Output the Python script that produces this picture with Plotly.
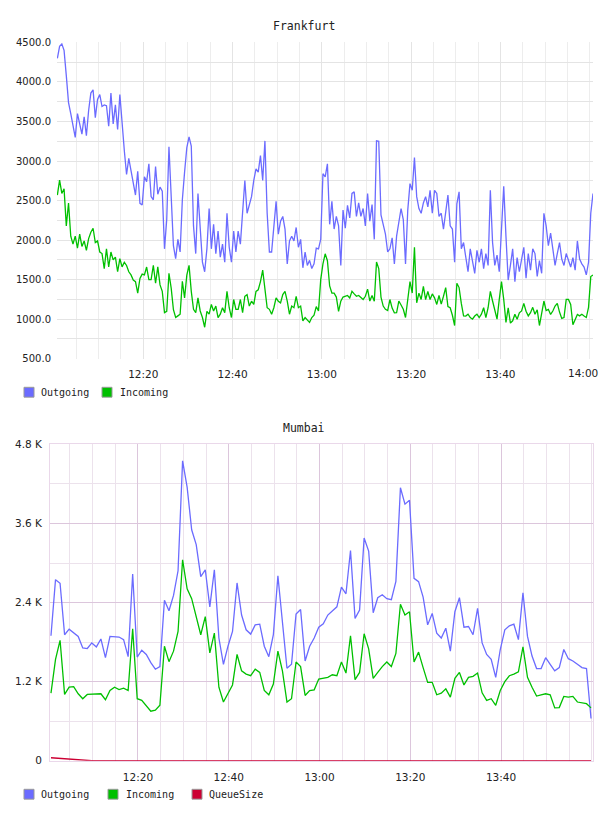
import plotly.graph_objects as go
import pandas as pd

W, H = 608, 816

# ---------------- data ----------------
series_names = ["Outgoing", "Incoming", "QueueSize"]
series_colors = ["#6b6bff", "#00c000", "#cc0033"]

fra_title = "Frankfurt"
fra_start = "2024-01-01 12:00:45"
fra_freq = "30s"
fra_outgoing = [
    4300, 4450, 4480, 4400, 4080, 3740, 3600, 3460, 3300, 3600,
    3480, 3340, 3560, 3320, 3640, 3860, 3900, 3550, 3780, 3840,
    3690, 3710, 3700, 3440, 3860, 3470, 3710, 3400, 3840, 3460,
    3130, 2830, 3035, 2880, 2715, 2570, 2870, 2465, 2445, 2800,
    2740, 2965, 2550, 2510, 2930, 2580, 2670, 2620, 1890, 2260,
    3180, 2500, 1930, 1765, 2010, 1850, 2510, 2860, 3170, 3305,
    3190, 2180, 1830, 2590, 2100, 1720, 1600, 1890, 2400, 1890,
    2200, 1830, 2115, 1785, 1950, 1720, 2340, 1910, 1720, 2115,
    1850, 2115, 1950, 2300, 2755, 2340, 2460, 2550, 2755, 2900,
    2860, 3070, 2755, 3255, 2340, 1850, 1850, 2180, 2490, 2075,
    2240, 2300, 2140, 1700, 1990, 2050, 1990, 2160, 1910, 2010,
    1650, 1850, 1680, 1745, 1640, 1700, 1900, 1890, 2010, 2840,
    2800, 2965, 2200, 2490, 2140, 2300, 2180, 1680, 2380, 2150,
    2440, 2280, 2590, 2610, 2300, 2470, 2300, 2400, 2180, 2590,
    2240, 2450, 2010, 3255, 3250, 2320, 2180, 2075, 1850, 1890,
    2030, 1700, 2050, 2220, 2400, 2260, 1700, 2380, 2715, 2630,
    3045, 2550, 2400, 2340, 2470, 2550, 2420, 2630, 2340, 2630,
    2590, 2300, 2340, 2140, 2380, 2570, 2180, 2140, 1720, 2460,
    2610, 1890, 1970, 1760, 1600, 1890, 1720, 1580, 1870, 1720,
    1890, 1640, 1830, 1680, 2630, 1970, 1680, 1810, 1600, 2100,
    2680, 2050, 1495, 1680, 1890, 1475, 1780, 1600, 1760, 1910,
    1520, 1830, 1620, 1890, 1830, 1540, 1740, 1580, 2340, 2180,
    1930, 2090, 1890, 1680, 1830, 1970, 1760, 1680, 1830, 1740,
    1660, 1780, 1620, 1990, 1760, 1700, 1660, 1560, 1720, 2340,
    2590,
]
fra_incoming = [
    2570, 2760, 2590, 2650, 2180, 2470, 2050, 1950, 2050, 1900,
    2075, 1920, 1990, 1870, 2020, 2100, 2150, 1970, 1990, 1850,
    1830, 1640, 1890, 1660, 1850, 1750, 1786, 1600, 1765, 1662,
    1720, 1680, 1600, 1560, 1495, 1475, 1330, 1515, 1570, 1560,
    1660, 1500, 1500, 1682, 1455, 1662, 1434, 1352, 1083, 1100,
    1580, 1393, 1120, 1021, 1042, 1063, 1480, 1269, 1558, 1682,
    1352, 1125, 1083, 1269, 1104, 1021, 898, 1100, 1063, 1187,
    1104, 1166, 1021, 1063, 1145, 1083, 1352, 1145, 1021, 1249,
    1125, 1125, 1249, 1083, 1290, 1311, 1166, 1228, 1187, 1352,
    1372, 1476, 1620, 1352, 1145, 1125, 1063, 1145, 1269, 1228,
    1207, 1311, 1352, 1228, 1063, 1166, 1145, 1290, 1145, 1166,
    980, 1021, 990, 960, 1021, 1050, 1160, 1104, 1500, 1700,
    1827, 1740, 1420, 1331, 1330, 1280, 1100, 1228, 1280, 1290,
    1300, 1269, 1352, 1320, 1290, 1300, 1270, 1250, 1290, 1380,
    1230, 1300, 1228, 1724, 1641, 1280, 1166, 1125, 1110, 1249,
    1140, 1080, 1083, 1230, 1180, 1125, 1021, 1269, 1476, 1331,
    1909, 1207, 1330, 1250, 1414, 1249, 1350, 1249, 1320, 1270,
    1187, 1300, 1190, 1290, 1400, 1160, 1145, 1050, 920, 1455,
    1400, 1200, 1042, 1040, 1063, 1020, 1000, 1040, 1063, 1021,
    1063, 1145, 1020, 1145, 1352, 1230, 1104, 1000, 1250, 1476,
    1250, 960, 1145, 950, 980, 1063, 1000, 1080, 1104, 1200,
    1100, 1042, 1083, 1150, 1063, 1120, 920, 1063, 1230, 1110,
    1125, 1060, 1104, 1166, 1200, 1090, 1010, 1021, 1250, 1250,
    1187, 930, 990, 1060, 1042, 1063, 1040, 1021, 1150, 1540,
    1558,
]
fra_xrange = ["2024-01-01 12:00:40", "2024-01-01 14:00:45"]
fra_xticks = ["12:20", "12:40", "13:00", "13:20", "13:40"]
fra_last_xtick = "14:00"
fra_yticks = [500, 1000, 1500, 2000, 2500, 3000, 3500, 4000, 4500]
fra_ylabels = ["500.0", "1000.0", "1500.0", "2000.0", "2500.0",
               "3000.0", "3500.0", "4000.0", "4500.0"]

mum_title = "Mumbai"
mum_start = "2024-01-01 12:00:50"
mum_freq = "60s"
mum_outgoing = [
    1897, 2748, 2693, 1912, 1997, 1937, 1887, 1713, 1703, 1788,
    1728, 1848, 1564, 1887, 1882, 1877, 1838, 1579, 2833, 1574,
    1678, 1613, 1489, 1389, 1429, 2435, 2276, 2509, 2883, 4551,
    4153, 3505, 3281, 2793, 2898, 2336, 2898, 1862, 1464, 1738,
    1962, 2698, 2211, 1987, 1922, 2062, 2072, 1738, 1579, 1912,
    2808, 2150, 1404, 1464, 2226, 2296, 1514, 1738, 1862, 2027,
    2077, 2211, 2276, 2336, 2634, 2534, 3191, 2161, 2286, 3381,
    3182, 2246, 2474, 2518, 2459, 2444, 2723, 4143, 3894, 3954,
    2768, 2718, 2484, 2062, 2236, 1937, 1862, 2012, 1663, 2261,
    2474, 2027, 2037, 1912, 2311, 1788, 1613, 1539, 1265, 1688,
    1987, 2047, 2072, 1838, 2549, 1887, 1589, 1399, 1399, 1564,
    1464, 1364, 1414, 1688, 1549, 1514, 1464, 1414, 1399, 642,
]
mum_incoming = [
    1026, 1539, 1828, 1006, 1116, 1125, 1016, 941, 1006, 1006,
    1006, 1016, 926, 1066, 1116, 1081, 1101, 1066, 2002, 941,
    916, 832, 752, 767, 842, 1738, 1504, 1663, 1962, 3050,
    2609, 2460, 2186, 1912, 2186, 1638, 1937, 1116, 891, 1016,
    1150, 1613, 1364, 1315, 1290, 1389, 1340, 1066, 1001, 1165,
    1663, 1364, 891, 941, 1499, 1429, 991, 1066, 1076, 1240,
    1250, 1265, 1305, 1290, 1499, 1330, 1897, 1230, 1340, 1927,
    1698, 1250, 1340, 1429, 1499, 1429, 1628, 2375, 2211, 2261,
    1499, 1648, 1414, 1190, 1190, 1001, 1026, 1091, 966, 1250,
    1340, 1150, 1265, 1280, 1330, 1031, 916, 941, 842, 1066,
    1200, 1290, 1315, 1350, 1728, 1265, 1116, 981, 1001, 1016,
    1001, 802, 807, 976, 966, 976, 891, 876, 866, 802,
]
mum_queue = [
    45, 40, 34, 27, 19, 11, 5, 0, 0, 0,
    0, 0, 0, 0, 0, 0, 0, 0, 0, 0,
    0, 0, 0, 0, 0, 0, 0, 0, 0, 0,
    0, 0, 0, 10, 0, 0, 0, 0, 0, 0,
    0, 0, 0, 0, 0, 0, 0, 0, 0, 0,
    0, 0, 0, 0, 0, 0, 0, 0, 0, 0,
    0, 0, 0, 0, 0, 0, 0, 0, 0, 0,
    0, 0, 0, 0, 0, 0, 0, 0, 0, 0,
    0, 0, 0, 0, 0, 0, 0, 0, 0, 0,
    0, 0, 0, 0, 0, 0, 0, 0, 0, 0,
    0, 0, 0, 0, 0, 0, 0, 0, 0, 0,
    0, 0, 0, 0, 0, 0, 0, 0, 0, 0,
]
mum_xrange = ["2024-01-01 12:00:37", "2024-01-01 14:00:16"]
mum_xticks = ["12:20", "12:40", "13:00", "13:20", "13:40"]
mum_yticks = [0, 1200, 2400, 3600, 4800]
mum_ylabels = ["0", "1.2 K", "2.4 K", "3.6 K", "4.8 K"]

# ---------------- figure ----------------
DAY = "2024-01-01 "
fra_t = pd.date_range(fra_start, periods=len(fra_outgoing), freq=fra_freq)
mum_t = pd.date_range(mum_start, periods=len(mum_outgoing), freq=mum_freq)


def px(x):
    return x / W


def py(y):
    return 1 - y / H


XFONT = dict(family="DejaVu Sans", size=10.5, color="#222")
YFONT_TOP = dict(family="DejaVu Sans", size=10, color="#222")
YFONT_BOT = dict(family="DejaVu Sans", size=10.5, color="#222")
MONO = "DejaVu Sans Mono"

fig = go.Figure()
for vals, name, col in [(fra_outgoing, series_names[0], series_colors[0]),
                        (fra_incoming, series_names[1], series_colors[1])]:
    fig.add_trace(go.Scatter(x=fra_t, y=vals, name=name, mode="lines",
                             line=dict(color=col, width=1.3),
                             xaxis="x", yaxis="y", showlegend=False))
for vals, name, col in [(mum_outgoing, series_names[0], series_colors[0]),
                        (mum_incoming, series_names[1], series_colors[1]),
                        (mum_queue, series_names[2], series_colors[2])]:
    fig.add_trace(go.Scatter(x=mum_t, y=vals, name=name, mode="lines",
                             line=dict(color=col, width=1.3),
                             xaxis="x2", yaxis="y2", showlegend=False))

top_grid = "#e4e4e4"
pink_major = "#dcc6dc"
pink_minor = "#ece2ec"
pink_border = "#ead8ea"

fig.update_layout(
    width=W, height=H, autosize=False,
    margin=dict(l=0, r=0, t=0, b=0, pad=0),
    paper_bgcolor="white", plot_bgcolor="white",
    showlegend=False,
    xaxis=dict(
        domain=[px(57), px(593)], anchor="y", type="date",
        range=fra_xrange,
        tickvals=[DAY + t for t in fra_xticks], ticktext=fra_xticks,
        showgrid=True, gridcolor=top_grid, gridwidth=1,
        minor=dict(dtick=300000, showgrid=True, gridcolor="#ededed", gridwidth=1),
        zeroline=False, showline=False, ticks="",
        tickfont=XFONT, ticklabelstandoff=8,
    ),
    yaxis=dict(
        domain=[py(358), py(37)], anchor="x",
        range=[fra_yticks[0], fra_yticks[-1]],
        tickvals=fra_yticks, ticktext=fra_ylabels,
        showgrid=False, zeroline=False, showline=False, ticks="",
        minor=dict(dtick=250, showgrid=True, gridcolor=top_grid, gridwidth=1),
        tickfont=YFONT_TOP, ticklabelstandoff=5,
    ),
    xaxis2=dict(
        domain=[px(50), px(593)], anchor="y2", type="date",
        range=mum_xrange,
        tickvals=[DAY + t for t in mum_xticks], ticktext=mum_xticks,
        showgrid=True, gridcolor=pink_major, gridwidth=1,
        minor=dict(dtick=300000, showgrid=True, gridcolor=pink_minor, gridwidth=1),
        zeroline=False, showline=True, mirror=True, linecolor=pink_border,
        linewidth=1, ticks="",
        tickfont=XFONT, ticklabelstandoff=7,
    ),
    yaxis2=dict(
        domain=[py(766), py(445)], anchor="x2",
        range=[mum_yticks[0], mum_yticks[-1]],
        tickvals=mum_yticks, ticktext=mum_ylabels,
        showgrid=True, gridcolor=pink_major, gridwidth=1,
        minor=dict(dtick=600, showgrid=True, gridcolor=pink_minor, gridwidth=1),
        zeroline=False, showline=True, mirror=True, linecolor=pink_border,
        linewidth=1, ticks="",
        tickfont=YFONT_BOT, ticklabelstandoff=5,
    ),
)

annotations = [
    dict(text=fra_title, x=0.5, y=py(20), xref="paper", yref="paper",
         xanchor="center", yanchor="middle", showarrow=False,
         font=dict(family=MONO, size=11.5, color="#222")),
    dict(text=mum_title, x=0.5, y=py(428), xref="paper", yref="paper",
         xanchor="center", yanchor="middle", showarrow=False,
         font=dict(family=MONO, size=11.5, color="#222")),
    # last time label of the top chart, kept inside the page edge
    dict(text=fra_last_xtick, x=px(600), y=py(372), xref="paper", yref="paper",
         xanchor="right", yanchor="middle", showarrow=False, font=XFONT),
]
shapes = []

legend_rows = [
    (392, [(24, 39), (102, 118)], series_names[:2], series_colors[:2]),
    (800, [(24, 39), (108, 124), (192, 207)], series_names, series_colors),
]
for yc, pos, names, cols in legend_rows:
    for (bx, tx), nm, col in zip(pos, names, cols):
        shapes.append(dict(type="rect", xref="paper", yref="paper",
                           x0=px(bx), x1=px(bx + 10), y0=py(yc + 5), y1=py(yc - 5),
                           fillcolor=col, line=dict(color="#999999", width=1)))
        annotations.append(dict(text=nm, x=px(tx), y=py(yc), xref="paper",
                                yref="paper", xanchor="left", yanchor="middle",
                                showarrow=False,
                                font=dict(family=MONO, size=10, color="#222")))

fig.update_layout(annotations=annotations, shapes=shapes)
fig.write_html("out.html")
